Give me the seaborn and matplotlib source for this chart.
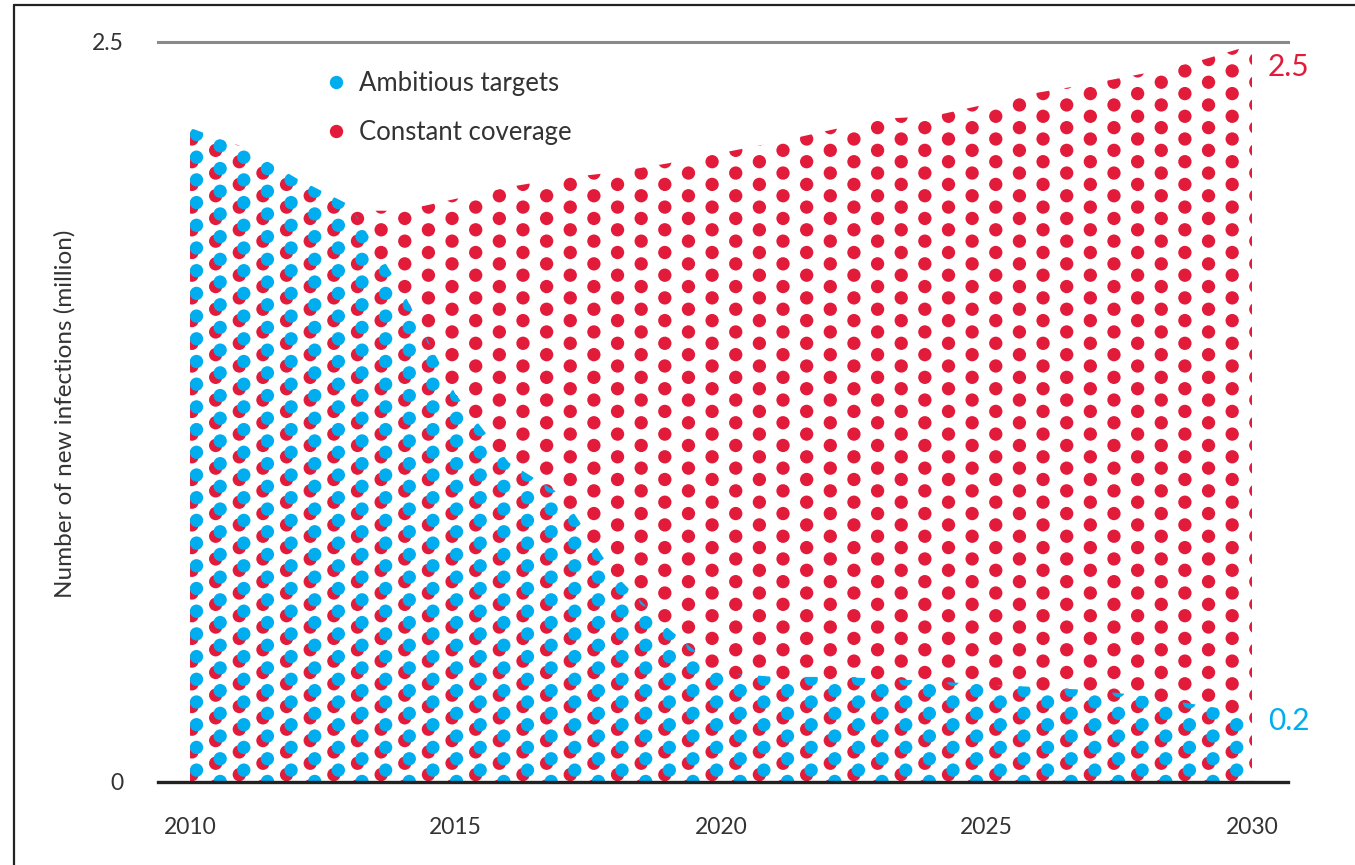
import numpy as np
import matplotlib
matplotlib.use('Agg')
import matplotlib.pyplot as plt
from matplotlib.lines import Line2D
import seaborn as sns

#-----------------------------------------------
years = list(range(2010, 2031))
constant = [2.21, 2.145, 2.04, 1.93, 1.93, 1.97, 2.01, 2.04, 2.06, 2.09, 2.125,
            2.16, 2.20, 2.24, 2.25, 2.29, 2.33, 2.36, 2.395, 2.436, 2.49]
ambitious = [2.21, 2.145, 2.04, 1.95, 1.66, 1.31, 1.08, 0.97, 0.70, 0.52, 0.37,
             0.355, 0.355, 0.35, 0.34, 0.33, 0.32, 0.31, 0.29, 0.26, 0.233]
yticks = [0, 2.5]
xticks = [2010, 2015, 2020, 2025, 2030]
ylabel = 'Number of new infections (million)'

red = '#E31B3B'
blue = '#00AEEF'
txt = '#333333'

#######################################################
sns.set_theme(style='white')
plt.rcParams['font.family'] = ['Lato', 'DejaVu Sans']

W, H = 1355, 865
fig = plt.figure(figsize=(W / 100, H / 100), dpi=100)
ax = fig.add_axes([158 / W, 1 - 782 / H, 1130 / W, 740 / H])
ax.set_xlim(2009.397, 2030.678)
ax.set_ylim(0, 2.5)

#-----------------------------------------------
# dot fill pattern, clipped to each area
px_x = 1130 / (2030.678 - 2009.397)
px_y = 740 / 2.5
col_dx = 23.64 / px_x
row_dy = 22.7 / px_y
x0 = 2010 + 2 / px_x
y0 = 0.025
cols = np.arange(47)
rows = np.arange(-1, 35)
gx, gy = np.meshgrid(cols, rows)
dot_x = (x0 + gx * col_dx).ravel()
dot_y = (y0 + gy * row_dy - (gx % 2) * row_dy / 2).ravel()
off_x, off_y = 4.5 / px_x, 4.5 / px_y
dot_s = (13.3 * 0.72) ** 2


def area_dots(values, dx, dy, color):
    poly = ax.fill_between(years, 0, values, color='none', lw=0)
    path = poly.get_paths()[0]
    sns.scatterplot(x=dot_x + dx, y=dot_y + dy, s=dot_s, color=color,
                    edgecolor='none', linewidth=0, legend=False, ax=ax)
    sc = ax.collections[-1]
    sc.set_clip_path(path, ax.transData)


area_dots(constant, 0, 0, red)
area_dots(ambitious, off_x, off_y, blue)

#-----------------------------------------------
sns.despine(ax=ax, left=True, right=True)
ax.spines['bottom'].set_color('#222222')
ax.spines['bottom'].set_linewidth(2.4)
ax.spines['bottom'].set_zorder(5)
ax.spines['top'].set_visible(True)
ax.spines['top'].set_color('#8a8a8a')
ax.spines['top'].set_linewidth(2.2)

ax.set_xticks(xticks)
ax.set_xticklabels([str(t) for t in xticks], fontsize=16.5, color=txt)
ax.set_yticks(yticks)
ax.set_yticklabels(['0', '2.5'], fontsize=16.5, color=txt)
ax.tick_params(axis='x', length=0, pad=25)
ax.tick_params(axis='y', length=0, pad=25)
ax.set_ylabel(ylabel, fontsize=17.5, color=txt)
ax.yaxis.set_label_coords(-82 / 1130, 0.497)

# end labels
ax.annotate(f'{constant[-1]:.1f}', xy=(years[-1], constant[-1]), xytext=(16, -22),
            textcoords='offset pixels', color=red, fontsize=21.5,
            ha='left', va='center', annotation_clip=False)
ax.annotate(f'{ambitious[-1]:.1f}', xy=(years[-1], ambitious[-1]), xytext=(16, -8),
            textcoords='offset pixels', color=blue, fontsize=21.5,
            ha='left', va='center', annotation_clip=False)

# legend
handles = [Line2D([], [], marker='o', ls='none', color=blue, markersize=9.6, mec='none'),
           Line2D([], [], marker='o', ls='none', color=red, markersize=9.6, mec='none')]
ax.legend(handles, ['Ambitious targets', 'Constant coverage'], loc='upper left',
          bbox_to_anchor=(323 / W, 1 - 71 / H), bbox_transform=fig.transFigure,
          frameon=False, fontsize=18.5, labelcolor=txt, handletextpad=0.4,
          labelspacing=0.95, handlelength=1.0, borderpad=0, borderaxespad=0)

# outer frame
fig.add_artist(Line2D([14 / W, 1], [1 - 5 / H, 1 - 5 / H], color='#222222', lw=1.6,
                      transform=fig.transFigure))
fig.add_artist(Line2D([14 / W, 14 / W], [0, 1 - 5 / H], color='#222222', lw=1.6,
                      transform=fig.transFigure))

fig.savefig('out.png', dpi=100)
plt.close(fig)
